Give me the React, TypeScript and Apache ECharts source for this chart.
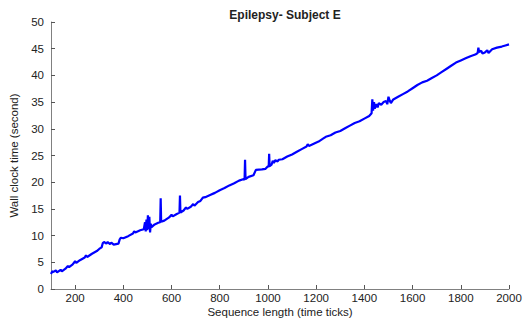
import React, { useEffect, useRef } from "react";
import * as echarts from "echarts";

const seqLength: number[] = [
  100, 105, 110, 120, 125, 140, 145, 160, 170, 175, 190, 200, 205, 220, 240, 245, 250, 270, 290, 300,
  310, 315, 320, 330, 335, 345, 350, 360, 370, 380, 385, 390, 400, 420, 440, 445, 450, 470, 485, 490,
  493, 496, 499, 502, 505, 508, 511, 514, 517, 530, 545, 553, 555, 557, 570, 590, 600, 605, 620, 633,
  635, 637, 650, 660, 665, 680, 690, 695, 710, 720, 730, 740, 760, 780, 800, 820, 840, 860, 880, 900,
  903, 905, 907, 920, 940, 950, 975, 990, 1000, 1003, 1005, 1007, 1015, 1020, 1025, 1030, 1040, 1045, 1060, 1080,
  1100, 1120, 1140, 1160, 1165, 1170, 1190, 1210, 1230, 1240, 1260, 1280, 1300, 1320, 1340, 1360, 1380, 1400, 1420, 1430,
  1433, 1436, 1440, 1443, 1450, 1455, 1460, 1470, 1480, 1490, 1495, 1500, 1505, 1510, 1520, 1540, 1560, 1580, 1600, 1620,
  1640, 1660, 1680, 1700, 1720, 1740, 1760, 1780, 1800, 1820, 1840, 1860, 1870, 1873, 1876, 1885, 1890, 1900, 1910, 1915,
  1930, 1950, 1970, 1985, 2000,
];

const wallClock: number[] = [
  2.8, 3.3, 3.2, 3.5, 3.1, 3.6, 3.3, 3.8, 4.3, 4.1, 4.6, 5.2, 4.9, 5.4, 5.9, 6.3, 6.0, 6.6, 7.1, 7.5,
  7.8, 8.6, 8.8, 8.5, 8.8, 8.4, 8.7, 8.3, 8.4, 8.5, 9.3, 9.6, 9.5, 9.9, 10.4, 10.8, 10.6, 11.0, 11.2, 12.5,
  10.8, 13.0, 11.0, 13.8, 11.2, 13.5, 10.6, 12.2, 11.6, 12.1, 12.4, 12.5, 17.0, 12.6, 12.8, 13.4, 13.9, 13.6, 14.0, 14.3,
  17.5, 14.3, 14.7, 15.3, 15.0, 15.4, 15.9, 15.6, 16.3, 16.5, 17.1, 17.2, 17.6, 18.0, 18.5, 18.9, 19.4, 19.8, 20.3, 20.6,
  20.4, 24.2, 20.6, 21.0, 21.3, 22.3, 22.4, 22.5, 23.0, 22.8, 25.3, 23.0, 23.3, 24.0, 23.6, 24.1, 23.9, 24.2, 24.3, 24.8,
  25.2, 25.7, 26.2, 26.7, 27.1, 26.8, 27.2, 27.6, 28.2, 28.5, 28.8, 29.3, 29.6, 30.1, 30.6, 31.1, 31.4, 31.9, 32.4, 32.9,
  35.5, 33.4, 35.0, 33.8, 34.6, 34.0, 34.8, 34.5, 35.0, 35.2, 34.6, 36.0, 35.3, 34.8, 35.5, 36.0, 36.5, 37.0, 37.6, 38.2,
  38.7, 39.0, 39.5, 40.0, 40.6, 41.2, 41.8, 42.4, 42.8, 43.2, 43.6, 43.9, 44.2, 45.2, 44.4, 44.6, 44.1, 44.3, 44.7, 44.2,
  44.9, 45.2, 45.4, 45.6, 45.8,
];

const xTickValues: number[] = [200, 400, 600, 800, 1000, 1200, 1400, 1600, 1800, 2000];

const FONT = "'Liberation Sans', Arial, sans-serif";

export default function App() {
  const ref = useRef<HTMLDivElement>(null);
  useEffect(() => {
    if (!ref.current) return;
    const chart = echarts.init(ref.current, undefined, { renderer: "svg" });
    const data = seqLength.map((x, i) => [x, wallClock[i]]);
    chart.setOption({
      animation: false,
      backgroundColor: "#ffffff",
      title: {
        text: "Epilepsy- Subject E",
        left: 280,
        textAlign: "center",
        top: 4,
        textStyle: { fontFamily: FONT, fontSize: 12, fontWeight: "bold", color: "#222" },
      },
      grid: { left: 51, right: 23, top: 22, bottom: 31, outerBoundsMode: "none", containLabel: false },
      xAxis: {
        type: "value",
        min: 100,
        max: 2000,
        name: "Sequence length (time ticks)",
        nameLocation: "middle",
        nameGap: 16,
        nameMoveOverlap: false,
        nameTextStyle: { fontFamily: FONT, fontSize: 11.5, lineHeight: 13, color: "#222" },
        axisLine: { show: true, lineStyle: { color: "#808080", width: 1 } },
        axisTick: { show: true, inside: true, length: 4, customValues: xTickValues, lineStyle: { color: "#555" } },
        axisLabel: {
          customValues: xTickValues,
          formatter: (v: number) => String(v),
          fontFamily: FONT,
          fontSize: 11.5,
          lineHeight: 12,
          color: "#222",
          margin: 3,
        },
        splitLine: { show: false },
      },
      yAxis: {
        type: "value",
        min: 0,
        max: 50,
        interval: 5,
        name: "Wall clock time (second)",
        nameLocation: "middle",
        nameGap: 31,
        nameMoveOverlap: false,
        nameTextStyle: { fontFamily: FONT, fontSize: 11.5, color: "#222" },
        axisLine: { show: true, lineStyle: { color: "#808080", width: 1 } },
        axisTick: { show: true, inside: true, length: 4, lineStyle: { color: "#555" } },
        axisLabel: { fontFamily: FONT, fontSize: 11.5, color: "#222", margin: 7 },
        splitLine: { show: false },
      },
      series: [
        {
          type: "line",
          data,
          showSymbol: false,
          symbol: "none",
          lineStyle: { color: "#0000ff", width: 2.2 },
          itemStyle: { color: "#0000ff" },
        },
      ],
    });
    return () => chart.dispose();
  }, []);
  return <div ref={ref} style={{ width: 532, height: 320, position: "absolute", left: 0, top: 0 }} />;
}
